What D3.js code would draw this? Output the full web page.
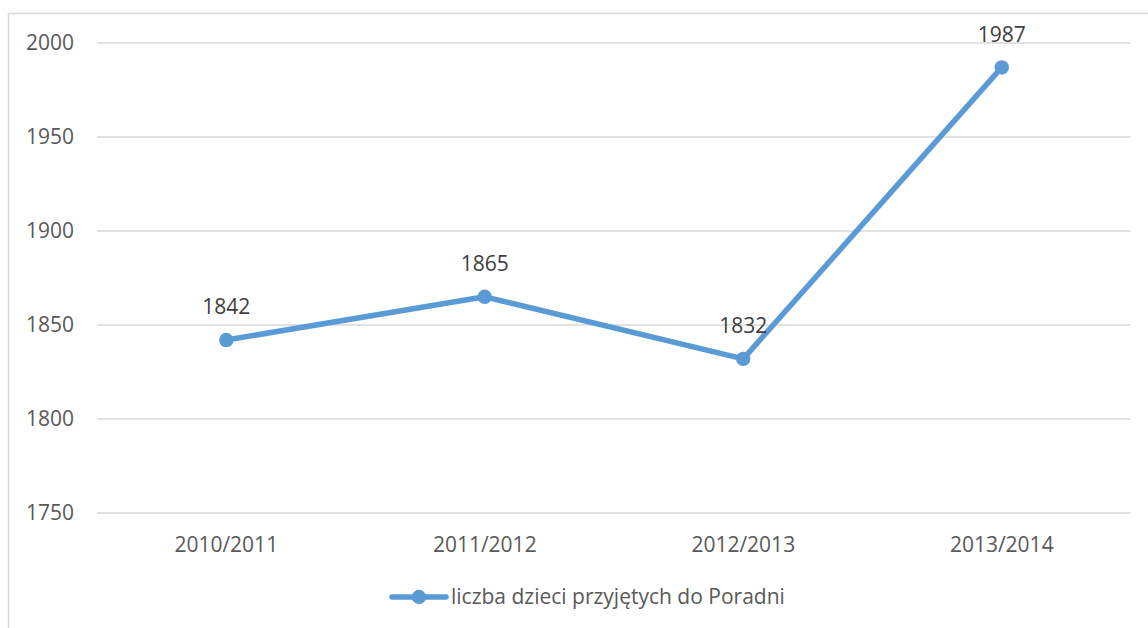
<!DOCTYPE html>
<html>
<head>
<meta charset="utf-8">
<script src="https://cdn.jsdelivr.net/npm/d3@7"></script>
<style>
  body { margin: 0; background: #fff; }
  svg { display: block; }
</style>
</head>
<body>
<svg id="chart"></svg>
<script>
// data
const years = ["2010/2011", "2011/2012", "2012/2013", "2013/2014"];
const children = [1842, 1865, 1832, 1987];
const yTicks = [1750, 1800, 1850, 1900, 1950, 2000];
const seriesName = "liczba dzieci przyjętych do Poradni";

const width = 1148, height = 628;
const margin = {top: 43, right: 17, bottom: 115, left: 97};
const color = "#5B9BD5";
const font = "'Open Sans', 'Liberation Sans', sans-serif";
const fontSize = "21px";

const svg = d3.select("#chart")
    .attr("width", width)
    .attr("height", height)
    .style("font-family", font);

// chart frame
svg.append("rect")
    .attr("x", 8.5).attr("y", 13.5)
    .attr("width", width + 20).attr("height", height + 20)
    .attr("fill", "none")
    .attr("stroke", "#d9d9d9")
    .attr("stroke-width", 1.5);

const x = d3.scaleBand()
    .domain(years)
    .range([margin.left, width - margin.right]);

const y = d3.scaleLinear()
    .domain([1750, 2000])
    .range([height - margin.bottom, margin.top]);

// gridlines
svg.append("g")
  .selectAll("line")
  .data(yTicks)
  .join("line")
    .attr("x1", margin.left)
    .attr("x2", width - margin.right)
    .attr("y1", d => y(d))
    .attr("y2", d => y(d))
    .attr("stroke", "#d9d9d9")
    .attr("stroke-width", 1.3);

const styleTicks = g => g
    .attr("font-family", font)
    .attr("font-size", fontSize)
    .call(g => g.select(".domain").remove())
    .call(g => g.selectAll("text").attr("fill", "#595959"));

// y axis labels
svg.append("g")
    .attr("transform", `translate(${margin.left - 23},0)`)
    .call(d3.axisLeft(y).tickValues(yTicks).tickFormat(d3.format("d")).tickSize(0).tickPadding(0))
    .call(styleTicks);

// x axis labels
svg.append("g")
    .attr("transform", `translate(0,${height - margin.bottom})`)
    .call(d3.axisBottom(x).tickSize(0).tickPadding(24))
    .call(styleTicks);

const pts = years.map((d, i) => ({year: d, value: children[i]}));
const cx = d => x(d.year) + x.bandwidth() / 2;

const line = d3.line()
    .x(cx)
    .y(d => y(d.value));

svg.append("path")
    .datum(pts)
    .attr("fill", "none")
    .attr("stroke", color)
    .attr("stroke-width", 5.5)
    .attr("stroke-linejoin", "round")
    .attr("d", line);

svg.append("g")
  .selectAll("circle")
  .data(pts)
  .join("circle")
    .attr("cx", cx)
    .attr("cy", d => y(d.value))
    .attr("r", 7.2)
    .attr("fill", color);

// data labels
svg.append("g")
  .selectAll("text")
  .data(pts)
  .join("text")
    .attr("x", cx)
    .attr("y", d => y(d.value) - 33)
    .attr("dy", "0.35em")
    .attr("text-anchor", "middle")
    .attr("fill", "#404040")
    .style("font-size", fontSize)
    .text(d => d.value);

// legend
const legend = svg.append("g")
    .attr("transform", `translate(392,597)`);

legend.append("line")
    .attr("x1", 0).attr("x2", 54)
    .attr("stroke", color)
    .attr("stroke-width", 5.5)
    .attr("stroke-linecap", "round");

legend.append("circle")
    .attr("cx", 27)
    .attr("r", 7.2)
    .attr("fill", color);

legend.append("text")
    .attr("x", 59)
    .attr("dy", "0.35em")
    .attr("fill", "#595959")
    .style("font-size", fontSize)
    .text(seriesName);
</script>
</body>
</html>
